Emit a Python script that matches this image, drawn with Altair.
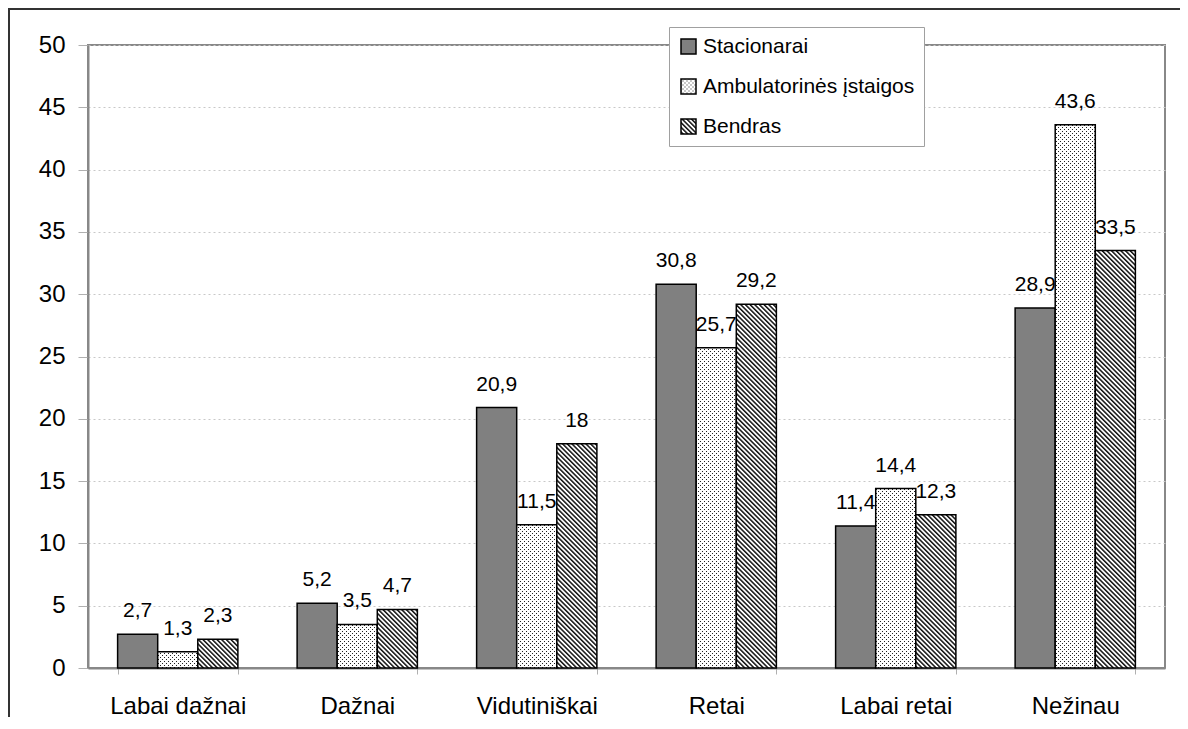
import altair as alt
import pandas as pd

categories = ["Labai dažnai", "Dažnai", "Vidutiniškai", "Retai", "Labai retai", "Nežinau"]
series_names = ["Stacionarai", "Ambulatorinės įstaigos", "Bendras"]
stacionarai = [2.7, 5.2, 20.9, 30.8, 11.4, 28.9]
ambulatorines = [1.3, 3.5, 11.5, 25.7, 14.4, 43.6]
bendras = [2.3, 4.7, 18, 29.2, 12.3, 33.5]
y_ticks = [0, 5, 10, 15, 20, 25, 30, 35, 40, 45, 50]

rows = []
for name, vals in zip(series_names, [stacionarai, ambulatorines, bendras]):
    for cat, v in zip(categories, vals):
        rows.append({"category": cat, "series": name, "value": v,
                     "label": f"{v:g}".replace(".", ",")})
df = pd.DataFrame(rows)

FONT = "Liberation Sans"
W, H = 1077, 623

fills = ["#808080", "url(#dots) #eeeeee", "url(#hatch) #999999"]

x_enc = alt.X("category:N", sort=categories,
              scale=alt.Scale(paddingInner=0.33, paddingOuter=0.165),
              axis=alt.Axis(title=None, labelAngle=0, labelFontSize=24, labelFont=FONT,
                            labelColor="black", tickBand="extent", tickSize=6,
                            tickColor="#b0b0b0", domainColor="#888888", domainWidth=2,
                            labelPadding=20, grid=False))
xo_enc = alt.XOffset("series:N", sort=series_names,
                     scale=alt.Scale(paddingInner=0, paddingOuter=0))
y_enc = alt.Y("value:Q", scale=alt.Scale(domain=[0, 50], nice=False),
              axis=alt.Axis(title=None, values=y_ticks, labelFontSize=24, labelFont=FONT,
                            labelColor="black", tickSize=10, tickColor="#b0b0b0",
                            labelPadding=13, domainColor="#888888", domainWidth=2,
                            grid=True, gridColor="#c8c8c8", gridDash=[2, 3], gridWidth=1))
color_enc = alt.Color("series:N", sort=series_names,
                      scale=alt.Scale(domain=series_names, range=fills),
                      legend=alt.Legend(title=None, orient="none", legendX=581, legendY=-18,
                                        direction="vertical", fillColor="white",
                                        strokeColor="#a0a0a0", padding=9,
                                        labelFontSize=21, labelFont=FONT, labelColor="black",
                                        labelLimit=400,
                                        symbolType="square", symbolSize=225,
                                        symbolStrokeColor="black", symbolStrokeWidth=1.5,
                                        rowPadding=18, labelOffset=4))

frame = alt.Chart(pd.DataFrame({"a": [0]})).mark_rect(
    fill="white", fillOpacity=0, stroke="#333333", strokeWidth=2
).encode(x=alt.value(-79), x2=alt.value(W + 100), y=alt.value(-36), y2=alt.value(H + 100))

layers = [frame]
for name in series_names:
    base = alt.Chart(df).transform_filter(alt.datum.series == name)
    bars = base.mark_bar(stroke="black", strokeWidth=1.5).encode(
        x=x_enc, xOffset=xo_enc, y=y_enc, color=color_enc)
    texts = base.mark_text(dy=-17, baseline="alphabetic", fontSize=21, font=FONT,
                           color="black").encode(
        x=x_enc, xOffset=xo_enc, y=y_enc, text="label:N")
    layers += [bars, texts]

chart = alt.layer(*layers).properties(
    width=W, height=H,
    autosize=alt.AutoSizeParams(type="none"),
    padding={"left": 80, "top": 37, "right": 15, "bottom": 49},
    background="white",
).configure(font=FONT).configure_view(stroke="#888888", strokeWidth=2)

DEFS = """
<svg width="0" height="0" style="position:absolute;left:0;top:0">
<defs>
<pattern id="dots" width="4" height="4" patternUnits="userSpaceOnUse">
<rect width="4" height="4" fill="#ffffff"/>
<rect x="0" y="0" width="1" height="1" fill="#222222"/>
<rect x="2" y="2" width="1" height="1" fill="#222222"/>
</pattern>
<pattern id="hatch" width="3.3" height="3.3" patternUnits="userSpaceOnUse" patternTransform="rotate(-45)">
<rect width="3.3" height="3.3" fill="#ffffff"/>
<rect width="1.5" height="3.3" fill="#111111"/>
</pattern>
</defs>
</svg>
"""


class PatternTemplate:
    def render(self, **kwargs):
        import altair.utils.html as ahtml
        html = ahtml.TEMPLATES["standard"].render(**kwargs)
        if "<body>" in html:
            return html.replace("<body>", "<body>" + DEFS, 1)
        return DEFS + html


try:
    chart.save("out.html", embed_options={"renderer": "svg", "actions": False},
               template=PatternTemplate())
except Exception:
    chart.save("out.html", embed_options={"renderer": "svg", "actions": False})
